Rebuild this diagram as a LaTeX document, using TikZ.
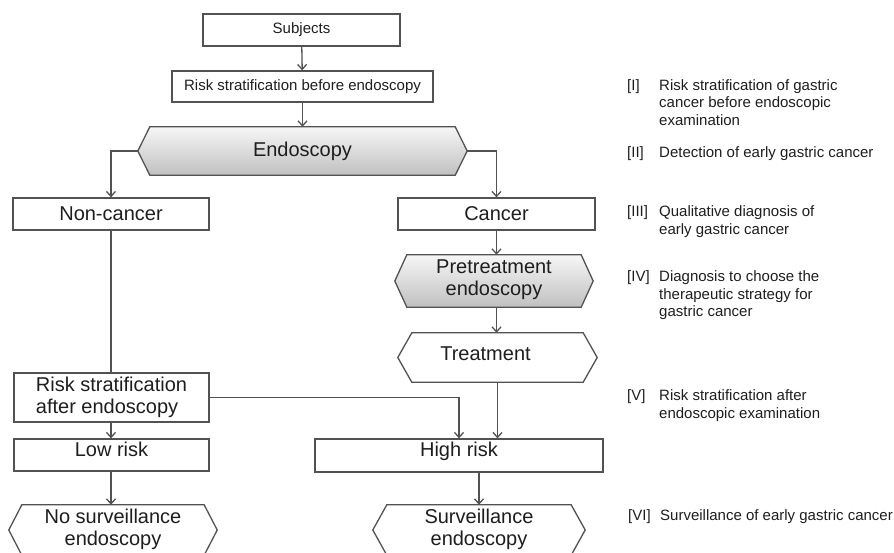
\documentclass[tikz,border=0pt]{standalone}
\usepackage{fontspec}
\setmainfont{Liberation Sans}
\usetikzlibrary{arrows.meta,backgrounds}
\definecolor{flowline}{RGB}{82,82,82}
\definecolor{flowtext}{RGB}{30,30,30}
\definecolor{hextop}{RGB}{246,246,246}
\definecolor{hexbottom}{RGB}{192,192,192}
\tikzset{
  flowbox/.style={
    draw=flowline,
    line width=1.3pt,
    fill=white,
    inner sep=0pt,
    text=flowtext,
    font=\fontsize{20}{22}\selectfont
  },
  smallbox/.style={
    flowbox,
    font=\fontsize{15}{18}\selectfont
  },
  hexslot/.style={
    inner sep=0pt
  },
  hextext/.style={
    inner sep=0pt,
    text=flowtext,
    align=center,
    font=\fontsize{20}{22}\selectfont
  },
  hexframe/.style={
    draw=flowline,
    line width=1.3pt,
    line join=miter
  },
  flowlink/.style={
    draw=flowline,
    line width=1.3pt
  },
  flowarrow/.style={
    flowlink,
    -{Straight Barb[length=5pt,width=9pt]}
  },
  steptag/.style={
    anchor=base west,
    inner sep=0pt,
    text=flowtext,
    font=\fontsize{15}{17.5}\selectfont
  },
  steptext/.style={
    steptag,
    align=left
  }
}

\begin{document}
\begin{tikzpicture}[x=1pt,y=-1pt]

  % The page is the size of the reference, in pixel units.
  \useasboundingbox (0,0) rectangle (894,552);

  % Rectangular steps of the flow.
  \node[smallbox,minimum width=197pt,minimum height=32pt] (subj) at (301.5,30) {Subjects};
  \node[smallbox,minimum width=261pt,minimum height=31pt] (riskpre) at (302.5,86.5)
    {Risk stratification before endoscopy};
  \node[flowbox,minimum width=196pt,minimum height=32pt] (noncan) at (111,214) {Non-cancer};
  \node[flowbox,minimum width=197pt,minimum height=32pt] (can) at (496.5,214) {Cancer};
  \node[flowbox,minimum width=195pt,minimum height=49pt,align=left] (riskpost) at (111.5,397.5)
    {Risk stratification\\after endoscopy};
  \node[flowbox,minimum width=195pt,minimum height=32pt,text depth=12pt] (low) at (111.5,455) {Low risk};
  \node[flowbox,minimum width=288pt,minimum height=33pt,text depth=12pt] (high) at (459,455.5) {High risk};

  % Hexagonal steps: the slot fixes the outline, the text sits inside.
  \node[hexslot,minimum width=329pt,minimum height=48pt] (endo) at (302.5,151) {};
  \node[hexslot,minimum width=198pt,minimum height=52pt] (pretreat) at (494,281) {};
  \node[hexslot,minimum width=199pt,minimum height=49pt] (treat) at (497.5,357.5) {};
  \node[hexslot,minimum width=208pt,minimum height=50pt] (nosurv) at (113,530) {};
  \node[hexslot,minimum width=212pt,minimum height=50pt] (surv) at (479,530) {};

  \node[hextext] (endolabel) at (endo.center) {Endoscopy};
  \node[hextext] (pretreatlabel) at ([yshift=1pt]pretreat.center) {Pretreatment\\endoscopy};
  \node[hextext] (treatlabel) at ([xshift=-12pt,yshift=4pt]treat.center) {Treatment};
  \node[hextext] (nosurvlabel) at ([yshift=1pt]nosurv.center) {No surveillance\\endoscopy};
  \node[hextext] (survlabel) at ([yshift=1pt]surv.center) {Surveillance\\endoscopy};

  \begin{scope}[on background layer]
    \foreach \hx/\cut in {endo/12,pretreat/12}{
      \path[hexframe,top color=hextop,bottom color=hexbottom]
        (\hx.west) -- ([xshift=\cut pt]\hx.north west) -- ([xshift=-\cut pt]\hx.north east)
        -- (\hx.east) -- ([xshift=-\cut pt]\hx.south east) -- ([xshift=\cut pt]\hx.south west) -- cycle;
    }
    \foreach \hx/\cut in {treat/14,nosurv/13,surv/14}{
      \path[hexframe,fill=white]
        (\hx.west) -- ([xshift=\cut pt]\hx.north west) -- ([xshift=-\cut pt]\hx.north east)
        -- (\hx.east) -- ([xshift=-\cut pt]\hx.south east) -- ([xshift=\cut pt]\hx.south west) -- cycle;
    }
  \end{scope}

  % Connectors.
  \draw[flowarrow] (subj) -- (riskpre);
  \draw[flowarrow] (riskpre) -- (endo);
  \draw[flowarrow] (endo.west) -| (noncan.north);
  \draw[flowarrow] (endo.east) -| (can.north);
  \draw[flowarrow] (can.south) -- (can.south |- pretreat.north);
  \draw[flowarrow] (pretreat.south -| can.south) -- (can.south |- treat.north);
  \draw[flowlink] (noncan.south) -- (riskpost.north -| noncan.south);
  \draw[flowarrow] (riskpost.south -| noncan.south) -- (low.north -| noncan.south);
  \draw[flowarrow] (riskpost.east) -| (high.north);
  \draw[flowarrow] (treat.south) -- (treat.south |- high.north);
  \draw[flowarrow] (low.south -| noncan.south) -- (nosurv.north -| noncan.south);
  \draw[flowarrow] (surv.north |- high.south) -- (surv.north);

  % Key to the stages, on the right (multi-line texts sit on their last baseline).
  \node[steptag] (tagI) at (627,90) {[I]};
  \node[steptext] (stepI) at (659,125)
    {Risk stratification of gastric\\cancer before endoscopic\\examination};
  \node[steptag] (tagII) at (627,157) {[II]};
  \node[steptext] (stepII) at (659,157) {Detection of early gastric cancer};
  \node[steptag] (tagIII) at (627,216.5) {[III]};
  \node[steptext] (stepIII) at (659,234) {Qualitative diagnosis of\\early gastric cancer};
  \node[steptag] (tagIV) at (627,281.5) {[IV]};
  \node[steptext] (stepIV) at (659,316.5)
    {Diagnosis to choose the\\therapeutic strategy for\\gastric cancer};
  \node[steptag] (tagV) at (627,400.5) {[V]};
  \node[steptext] (stepV) at (659,418) {Risk stratification after\\endoscopic examination};
  \node[steptag] (tagVI) at (628,520.5) {[VI]};
  \node[steptext] (stepVI) at (660,520.5) {Surveillance of early gastric cancer};

\end{tikzpicture}
\end{document}
